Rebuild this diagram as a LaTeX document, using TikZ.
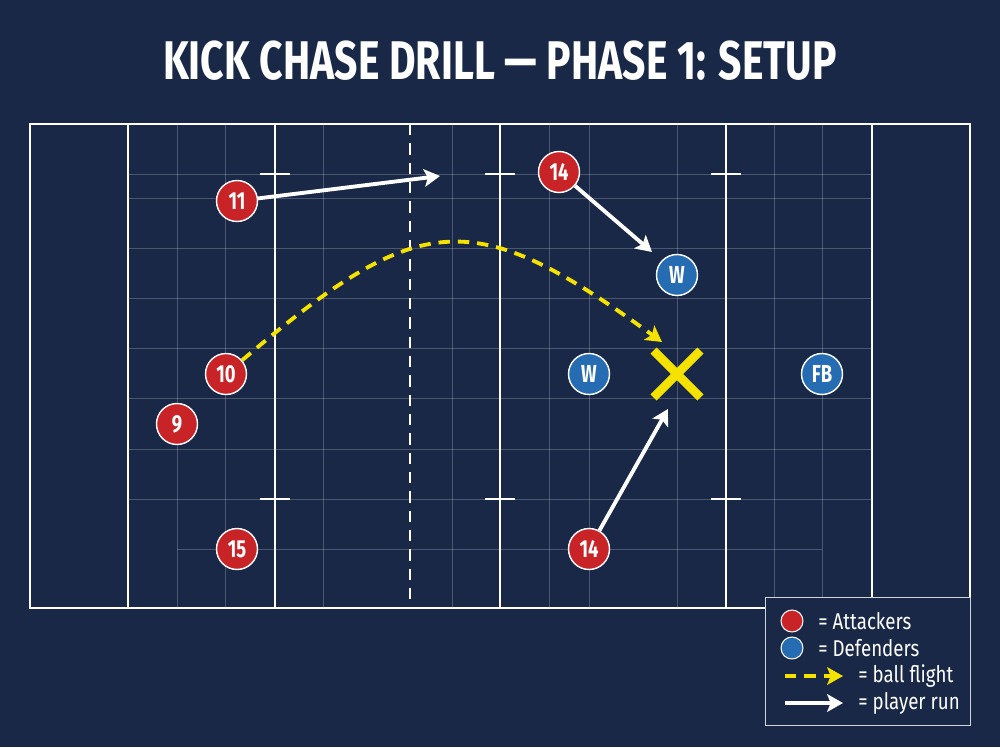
\documentclass[tikz,border=0pt]{standalone}
\usepackage{fontspec}
\usepackage{xcolor}
\usetikzlibrary{shapes,arrows.meta,positioning,calc}
\newfontfamily\condfont[FakeStretch=0.75]{Fira Sans}
\newfontfamily\keyfont[FakeStretch=0.82]{Fira Sans}
\definecolor{pitchblue}{RGB}{24,40,70}
\definecolor{attred}{RGB}{200,35,38}
\definecolor{defblue}{RGB}{38,108,178}
\definecolor{ballyellow}{RGB}{246,226,0}

\begin{document}
\begin{tikzpicture}[x=0.02cm, y=-0.02cm,
    attacker/.style={circle, fill=attred, draw=white, line width=0.8pt, minimum size=0.82cm, inner sep=0pt, text=white, font=\condfont\bfseries\fontsize{14}{14}\selectfont},
    defender/.style={attacker, fill=defblue},
    pitchline/.style={white, line width=1.6pt},
    gridline/.style={white, opacity=0.22, line width=0.5pt},
    run/.style={white, line width=2.2pt, -{Stealth[length=9pt, width=10pt, inset=2pt]}},
    flight/.style={ballyellow, line width=2.2pt, dash pattern=on 6.5pt off 4.5pt, -{Stealth[length=9pt, width=10pt, inset=2pt]}},
    keytext/.style={anchor=west, text=white, inner sep=0pt, font=\keyfont\fontsize{13}{13}\selectfont}]
    \fill[pitchblue] (0,0) rectangle (1000,747);
    \useasboundingbox (0,0) rectangle (1000,747);

    \node (title) [text=white, font=\condfont\bfseries\fontsize{31}{34}\selectfont] at (500,61) {KICK CHASE DRILL — PHASE 1: SETUP};

    % faint grid
    \foreach \gx in {177,225,323,452,549,589,677,774,822}
        \draw[gridline] (\gx,124) -- (\gx,608);
    \foreach \gy in {174,198,248,298,348,398,449,499}
        \draw[gridline] (128,\gy) -- (872,\gy);
    \draw[gridline] (177,549) -- (822,549);

    % pitch markings
    \draw[pitchline] (30,124) rectangle (970,608);
    \foreach \lx in {128,275,500,726,872}
        \draw[pitchline] (\lx,124) -- (\lx,608);
    \draw[pitchline, line width=1.4pt, dash pattern=on 6.5pt off 4.5pt] (410,124) -- (410,608);
    \foreach \lx in {275,500,726}
        \foreach \ty in {174,499}
            \draw[pitchline, line width=1.1pt] (\lx-15,\ty) -- (\lx+15,\ty);

    % players
    \node (a11) [attacker] at (237,201) {11};
    \node (a10) [attacker] at (226,374) {10};
    \node (a9) [attacker] at (177,424) {9};
    \node (a15) [attacker] at (237,549) {15};
    \node (a14top) [attacker] at (559,172) {14};
    \node (a14low) [attacker] at (589,549) {14};
    \node (wtop) [defender] at (677,275) {W};
    \node (wmid) [defender] at (589,374) {W};
    \node (fb) [defender] at (822,374) {FB};
    \node (spot) [cross out, draw=ballyellow, line width=5pt, minimum size=0.76cm, inner sep=0pt] at (677,374) {};

    \coordinate (run11) at (440,176);
    \coordinate (run14top) at (652,252);
    \coordinate (run14low) at (668,409);
    \coordinate (catch) at (662,342);

    \draw[run] (a11) -- (run11);
    \draw[run] (a14top) -- (run14top);
    \draw[run] (a14low) -- (run14low);
    \draw[flight] (a10) .. controls (421,208) and (473,205) .. (catch);

    % key
    \node (key) [draw=white!80!pitchblue, fill=pitchblue, line width=0.8pt, minimum width=4.1cm, minimum height=2.56cm, anchor=north west] at (765,597) {};
    \node (keyatt) [attacker, minimum size=0.44cm, line width=0.6pt] at (792,621) {};
    \node (keydef) [defender, minimum size=0.44cm, line width=0.6pt] at (792,648) {};
    \node (keyatttext) [keytext] at (818,621) {= Attackers};
    \node (keydeftext) [keytext] at (818,648) {= Defenders};
    \coordinate (flightA) at (785,676);
    \coordinate (flightB) at (843,676);
    \draw[flight] (flightA) -- (flightB);
    \node (keyflighttext) [keytext] at (858,676) {= ball flight};
    \coordinate (runA) at (785,703);
    \coordinate (runB) at (843,703);
    \draw[run] (runA) -- (runB);
    \node (keyruntext) [keytext] at (858,703) {= player run};
\end{tikzpicture}
\end{document}
